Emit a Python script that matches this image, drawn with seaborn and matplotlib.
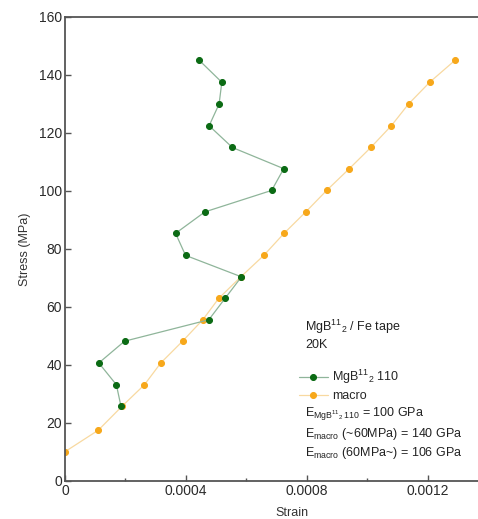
import numpy as np
import pandas as pd
import matplotlib
matplotlib.use('Agg')
import matplotlib.pyplot as plt
import seaborn as sns

# Stress-strain data
stress = [25.9, 33.2, 40.7, 48.2, 55.6, 63.0, 70.4, 77.8, 85.4, 92.8,
          100.2, 107.7, 115.0, 122.5, 130.0, 137.5, 145.0]

strain_mgb2 = [0.000185, 0.000170, 0.000112, 0.000197, 0.000476, 0.000530,
               0.000584, 0.000399, 0.000366, 0.000463, 0.000684, 0.000724,
               0.000554, 0.000477, 0.000510, 0.000519, 0.000445]

stress_macro = [10.1, 17.5] + stress
strain_macro = [0.0, 0.000110, 0.000190, 0.000263, 0.000317, 0.000389,
                0.000456, 0.000509, 0.000582, 0.000658, 0.000725, 0.000797,
                0.000866, 0.000941, 0.001012, 0.001080, 0.001137, 0.001207,
                0.001290]

df_mgb = pd.DataFrame({'Strain': strain_mgb2, 'Stress': stress})
df_mac = pd.DataFrame({'Strain': strain_macro, 'Stress': stress_macro})

sns.set_style('ticks')
plt.rcParams['font.family'] = ['Liberation Sans', 'DejaVu Sans']
plt.rcParams['mathtext.default'] = 'regular'

fig = plt.figure(figsize=(4.78, 5.19), dpi=100)
# right edge runs past the figure, like the cropped original
ax = fig.add_axes([65 / 478, 38 / 519, 423 / 478, 464 / 519])

green_dot = '#0b6b14'
green_line = '#8fb59a'
orange_dot = '#f7a81b'
orange_line = '#f8d9a0'

sns.lineplot(data=df_mgb, x='Strain', y='Stress', ax=ax, sort=False, estimator=None,
             color=green_line, linewidth=0.9, marker='o', markersize=4.3,
             markerfacecolor=green_dot, markeredgecolor=green_dot,
             label='MgB$^{11}{}_2$ 110', zorder=3)
sns.lineplot(data=df_mac, x='Strain', y='Stress', ax=ax, sort=False, estimator=None,
             color=orange_line, linewidth=0.9, marker='o', markersize=4.3,
             markerfacecolor=orange_dot, markeredgecolor=orange_dot,
             label='macro', zorder=2)

ax.set_xlim(0, 0.0014)
ax.set_ylim(0, 160)
ax.set_xticks([0, 0.0004, 0.0008, 0.0012])
ax.set_xticklabels(['0', '0.0004', '0.0008', '0.0012'])
ax.set_xticks([0.0002, 0.0006, 0.0010], minor=True)
ax.set_yticks(range(0, 161, 20))

for side in ['top', 'right', 'left', 'bottom']:
    ax.spines[side].set_visible(True)
    ax.spines[side].set_color('#555555')
    ax.spines[side].set_linewidth(1.3)
ax.tick_params(axis='both', which='major', direction='in', length=4, width=1,
               color='#555555', labelsize=10, labelcolor='#2a2a2a', pad=2)
ax.tick_params(axis='x', which='minor', direction='in', length=2.5, width=1,
               color='#555555')

ax.set_xlabel('Strain', fontsize=9, color='#333333', labelpad=3)
ax.set_ylabel('Stress (MPa)', fontsize=9, color='#333333', labelpad=6)
ax.xaxis.set_label_coords((292 - 65) / 423, -0.055)

leg = ax.legend(loc='upper left', bbox_to_anchor=(299 / 478, (519 - 368) / 519),
                bbox_transform=fig.transFigure, frameon=False, fontsize=9,
                handlelength=2.3, handletextpad=0.35, labelspacing=0.3,
                borderpad=0, borderaxespad=0)

fig.text(305 / 478, (519 - 327) / 519, 'MgB$^{11}{}_2$ / Fe tape', fontsize=9,
         color='#222222', va='center')
fig.text(305 / 478, (519 - 345) / 519, '20K', fontsize=9, color='#222222', va='center')
fig.text(305 / 478, (519 - 414) / 519, 'E$_{MgB^{11}{}_2\\,110}$ = 100 GPa', fontsize=9,
         color='#222222', va='center')
fig.text(305 / 478, (519 - 434) / 519, 'E$_{macro}$ (~60MPa) = 140 GPa', fontsize=9,
         color='#222222', va='center')
fig.text(305 / 478, (519 - 453) / 519, 'E$_{macro}$ (60MPa~) = 106 GPa', fontsize=9,
         color='#222222', va='center')

fig.savefig('out.png', dpi=100)
